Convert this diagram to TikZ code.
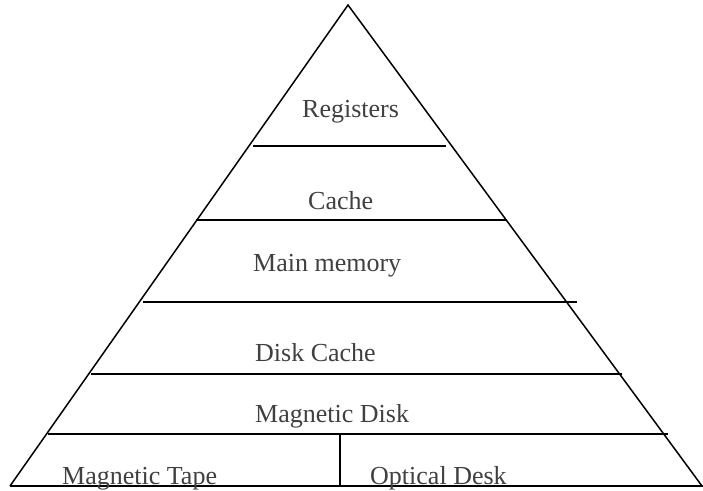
\documentclass[tikz,border=0pt]{standalone}
\usepackage{fontspec}
\setmainfont{Liberation Serif}
\begin{document}
\begin{tikzpicture}[x=1pt,y=-1pt,
  edge/.style={line width=1.5pt,black},
  lbl/.style={anchor=base west,inner sep=0pt,text=black!75,font=\fontsize{26}{28}\selectfont}]
\useasboundingbox (0,0) rectangle (703,490);
\coordinate (apex) at (348,5);
\coordinate (bl) at (10,486);
\coordinate (br) at (702,486);
\draw[edge] (bl) -- (apex) -- (br);
% horizontal levels
\coordinate (l1a) at (253,146); \coordinate (l1b) at (446,146);
\coordinate (l2a) at (196,220); \coordinate (l2b) at (507,220);
\coordinate (l3a) at (143,302); \coordinate (l3b) at (577,302);
\coordinate (l4a) at (91,374);  \coordinate (l4b) at (622,374);
\coordinate (l5a) at (48,434);  \coordinate (l5b) at (668,434);
\coordinate (b0a) at (10,486);  \coordinate (b0b) at (703,486);
\draw[edge] (l1a) -- (l1b);
\draw[edge] (l2a) -- (l2b);
\draw[edge] (l3a) -- (l3b);
\draw[edge] (l4a) -- (l4b);
\draw[edge] (l5a) -- (l5b);
\draw[edge] (b0a) -- (b0b);
\coordinate (va) at (340,434); \coordinate (vb) at (340,486);
\draw[edge] (va) -- (vb);
% labels
\node[lbl] (reg) at (302,117) {Registers};
\node[lbl] (cache) at (308,209) {Cache};
\node[lbl] (main) at (253,271) {Main memory};
\node[lbl] (dcache) at (255,361) {Disk Cache};
\node[lbl] (mdisk) at (255,422) {Magnetic Disk};
\node[lbl] (mtape) at (62,484) {Magnetic Tape};
\node[lbl] (odesk) at (370,484) {Optical Desk};
\end{tikzpicture}
\end{document}
